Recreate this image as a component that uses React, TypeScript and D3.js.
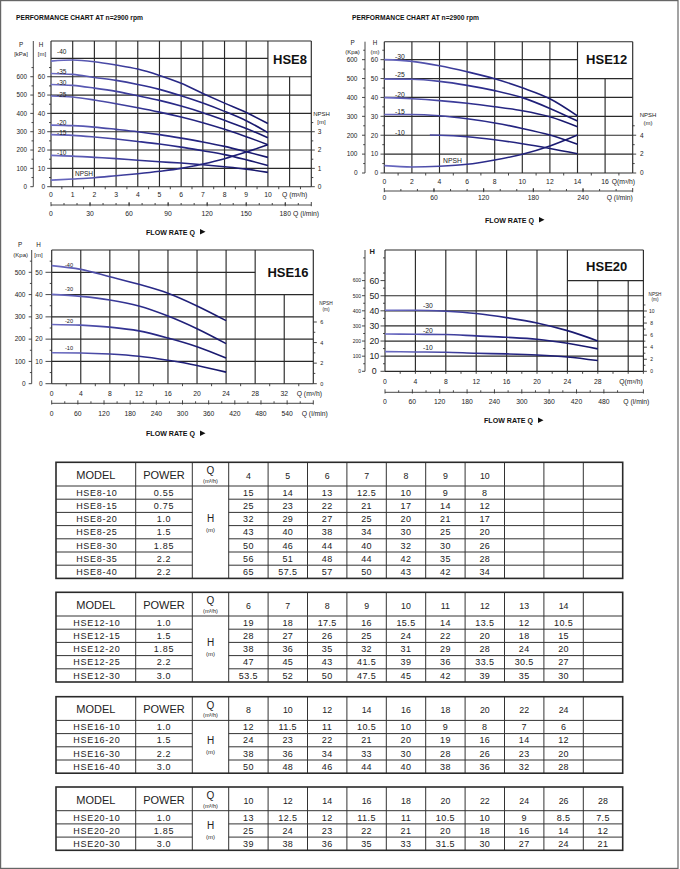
import React from "react";
import * as d3 from "d3";

const FONT = "'Liberation Sans', Arial, Helvetica, sans-serif";
const INK = "#222";
const GRID = "#2a2a2a";

// ===== HSE8 curves (H in m, NPSH in m) =====
const hse8Q = [0, 1, 2, 3, 4, 5, 6, 7, 8, 9, 10];
const hse8H40 = [68.5, 69.1, 68.2, 66.4, 64.2, 60.7, 56.4, 50.9, 45.6, 40.5, 34.5];
const hse8H35 = [61.8, 61.3, 59.6, 58, 55.8, 53.1, 49.6, 45.6, 41.1, 36, 29.5];
const hse8H30 = [55.8, 55.3, 53.8, 52, 49.6, 47.1, 44, 40.4, 36.2, 31.8, 26.7];
const hse8H25 = [49.5, 48.9, 47.3, 45.3, 43.1, 40.7, 38, 34.9, 31.3, 27.3, 22.9];
const hse8H20 = [33.6, 33.3, 32.5, 31.3, 30, 28.4, 26.5, 24.4, 22, 19.1, 16];
const hse8H15 = [28.4, 28, 27.1, 26, 24.7, 23.3, 21.6, 19.6, 17.5, 14.7, 11.6];
const hse8H10 = [17.1, 16.7, 16, 15.3, 14.4, 13.6, 12.9, 12, 10.9, 9.6, 7.8];
const hse8Npsh = [0.36, 0.42, 0.49, 0.6, 0.71, 0.84, 1.0, 1.24, 1.53, 1.89, 2.29];
const hse8Labels = ["-40", "-35", "-30", "-25", "-20", "-15", "-10"];

// ===== HSE12 curves =====
const hse12Q = [0, 2, 4, 6, 8, 10, 12, 14];
const hse12QShort = [3.3, 4, 6, 8, 10, 12, 14];
const hse12H30 = [60, 59.1, 56.8, 53.6, 49.9, 45.1, 39.3, 30.2];
const hse12H25 = [49.7, 49.6, 48.5, 46.4, 43.6, 39.9, 34.2, 27.5];
const hse12H20 = [39.9, 39.3, 38.3, 36.9, 35.1, 33, 29.8, 24.5];
const hse12H15 = [31, 31, 30.3, 28.7, 26.5, 23.6, 20.1, 15.2];
const hse12H10 = [20.1, 20, 19.2, 17.6, 15.5, 13, 10.2];
const hse12Npsh = [0.78, 0.63, 0.71, 0.92, 1.38, 1.98, 2.86, 4.02];
const hse12Labels = ["-30", "-25", "-20", "-15", "-10"];

// ===== HSE16 curves =====
const hse16Q = [0, 4, 8, 12, 16, 20, 24];
const hse16H40 = [53, 51.3, 48, 44.6, 40.6, 34.9, 28.3];
const hse16H30 = [40.1, 39.2, 37.6, 34.9, 30.4, 24.7, 18];
const hse16H20 = [26.6, 26.3, 25.4, 23.7, 20.5, 16.6, 11.5];
const hse16H10 = [13.9, 13.8, 13.3, 12.3, 10.5, 8.2, 5.2];
const hse16Labels = ["-40", "-30", "-20", "-10"];

// ===== HSE20 curves =====
const hse20Q = [0, 4, 8, 12, 16, 20, 24, 28];
const hse20H30 = [40.4, 40.4, 39.7, 38.2, 35.5, 32, 26.9, 20.1];
const hse20H20 = [24.7, 24.5, 24.3, 23.4, 22.5, 21.2, 18.5, 14.8];
const hse20H10 = [13, 12.8, 12.6, 11.9, 11.5, 10.8, 9.5, 7.1];
const hse20Labels = ["-30", "-20", "-10"];

// ===== tables =====
const t8Q = [4, 5, 6, 7, 8, 9, 10];
const t8Models = ["HSE8-10", "HSE8-15", "HSE8-20", "HSE8-25", "HSE8-30", "HSE8-35", "HSE8-40"];
const t8Power = ["0.55", "0.75", "1.0", "1.5", "1.85", "2.2", "2.2"];
const t8H = [
  [15, 14, 13, 12.5, 10, 9, 8],
  [25, 23, 22, 21, 17, 14, 12],
  [32, 29, 27, 25, 20, 21, 17],
  [43, 40, 38, 34, 30, 25, 20],
  [50, 46, 44, 40, 32, 30, 26],
  [56, 51, 48, 44, 42, 35, 28],
  [65, 57.5, 57, 50, 43, 42, 34],
];
const t12Q = [6, 7, 8, 9, 10, 11, 12, 13, 14];
const t12Models = ["HSE12-10", "HSE12-15", "HSE12-20", "HSE12-25", "HSE12-30"];
const t12Power = ["1.0", "1.5", "1.85", "2.2", "3.0"];
const t12H = [
  [19, 18, 17.5, 16, 15.5, 14, 13.5, 12, 10.5],
  [28, 27, 26, 25, 24, 22, 20, 18, 15],
  [38, 36, 35, 32, 31, 29, 28, 24, 20],
  [47, 45, 43, 41.5, 39, 36, 33.5, 30.5, 27],
  [53.5, 52, 50, 47.5, 45, 42, 39, 35, 30],
];
const t16Q = [8, 10, 12, 14, 16, 18, 20, 22, 24];
const t16Models = ["HSE16-10", "HSE16-20", "HSE16-30", "HSE16-40"];
const t16Power = ["1.0", "1.5", "2.2", "3.0"];
const t16H = [
  [12, 11.5, 11, 10.5, 10, 9, 8, 7, 6],
  [24, 23, 22, 21, 20, 19, 16, 14, 12],
  [38, 36, 34, 33, 30, 28, 26, 23, 20],
  [50, 48, 46, 44, 40, 38, 36, 32, 28],
];
const t20Q = [10, 12, 14, 16, 18, 20, 22, 24, 26, 28];
const t20Models = ["HSE20-10", "HSE20-20", "HSE20-30"];
const t20Power = ["1.0", "1.85", "3.0"];
const t20H = [
  [13, 12.5, 12, 11.5, 11, 10.5, 10, 9, 8.5, 7.5],
  [25, 24, 23, 22, 21, 20, 18, 16, 14, 12],
  [39, 38, 36, 35, 33, 31.5, 30, 27, 24, 21],
];

const TITLE = "PERFORMANCE CHART AT n=2900 rpm";
const lm = (L: number) => L * 0.06; // l/min -> m3/h
const rng = (a: number, b: number, s: number) => d3.range(a, b + s / 2, s);

type Txt = [string, number, number, number, string?, string?];

function Panel({ c }: { c: any }) {
  const { xs, ys, ns, ps } = c;
  const xL = xs(0), xR = xs(c.qMax), yB = ys(0);
  const gid = "grad" + c.name;
  const line = d3.line<[number, number]>().x((d) => xs(d[0])).y((d) => ys(d[1])).curve(d3.curveMonotoneX);
  const nline = d3.line<[number, number]>().x((d) => xs(d[0])).y((d) => ns(d[1])).curve(d3.curveMonotoneX);
  const fmt = (v: number) => String(v);
  return (
    <g fontFamily={FONT}>
      <defs>
        <linearGradient id={gid} gradientUnits="userSpaceOnUse" x1={xL} x2={xs(c.qCurveMax)} y1={0} y2={0}>
          <stop offset="0" stopColor="#6d6dc4" />
          <stop offset="0.45" stopColor="#2e2e8e" />
          <stop offset="1" stopColor="#16166a" />
        </linearGradient>
      </defs>
      <g stroke={GRID} strokeWidth={1.15} fill="none">
        <line x1={xL} x2={xR} y1={c.yTop} y2={c.yTop} />
        {c.hFull.map((h: number) => <line key={"hf" + h} x1={xL} x2={xR} y1={ys(h)} y2={ys(h)} />)}
        {c.hPart.map(([h, q0, q1]: number[]) => <line key={"hp" + h} x1={xs(q0)} x2={xs(q1)} y1={ys(h)} y2={ys(h)} />)}
        {c.vFull.map((q: number) => <line key={"vf" + q} x1={xs(q)} x2={xs(q)} y1={c.yTop} y2={yB} />)}
        {c.vPart.map(([q, h]: number[]) => <line key={"vp" + q} x1={xs(q)} x2={xs(q)} y1={ys(h)} y2={yB} />)}
      </g>
      <g stroke="#333" strokeWidth={0.9}>
        <line x1={c.pAxisX} x2={c.pAxisX} y1={c.yTop} y2={yB} />
        {c.pTicks.map((v: number) => <line key={"pt" + v} x1={c.pAxisX - 3} x2={c.pAxisX} y1={ps(v)} y2={ps(v)} />)}
        {c.pMinor.map((v: number) => <line key={"pm" + v} x1={c.pAxisX - 1.8} x2={c.pAxisX} y1={ps(v)} y2={ps(v)} />)}
        {c.hTicks.map((v: number) => <line key={"ht" + v} x1={c.hTickX} x2={xL} y1={ys(v)} y2={ys(v)} />)}
        {c.hMinor.map((v: number) => <line key={"hm" + v} x1={xL - 2} x2={xL} y1={ys(v)} y2={ys(v)} />)}
        {c.nTicks.map((v: number) => <line key={"nt" + v} x1={xR} x2={xR + 3.5} y1={ns(v)} y2={ns(v)} />)}
        {c.nMinor.map((v: number) => <line key={"nm" + v} x1={xR} x2={xR + 2} y1={ns(v)} y2={ns(v)} />)}
        {c.qMinor.map((v: number) => <line key={"qm" + v} x1={xs(v)} x2={xs(v)} y1={yB} y2={yB + 2.5} />)}
        <line x1={xL} x2={xR} y1={c.lAxisY} y2={c.lAxisY} />
        {c.lTicks.map((v: number) => <line key={"lt" + v} x1={xs(lm(v))} x2={xs(lm(v))} y1={c.lAxisY - 3} y2={c.lAxisY + 1.2} />)}
        {c.lMinor.map((v: number) => <line key={"lm" + v} x1={xs(lm(v))} x2={xs(lm(v))} y1={c.lAxisY - 2} y2={c.lAxisY} />)}
        <line x1={xR} x2={xR} y1={c.lAxisY - 3} y2={c.lAxisY + 1.2} />
      </g>
      <g fill={INK}>
        {c.pTicks.map((v: number) => (
          <text key={"pl" + v} x={c.pLabelX} y={ps(v) + c.pFont * 0.36} fontSize={c.pFont} textAnchor="end">{fmt(v)}</text>
        ))}
        {c.hTicks.map((v: number) => (
          <text key={"hl" + v} x={c.hLabelX} y={ys(v) + c.hFont * 0.36} fontSize={c.hFont} textAnchor={c.hAnchor}>{fmt(v)}</text>
        ))}
        {c.nTicks.map((v: number) => (
          <text key={"nl" + v} x={c.nLabelX} y={ns(v) + c.nFont * 0.36} fontSize={c.nFont} textAnchor="middle">{fmt(v)}</text>
        ))}
        {c.qTicks.map((v: number) => (
          <text key={"ql" + v} x={xs(v)} y={c.qLabelY} fontSize={6.8} textAnchor="middle">{fmt(v)}</text>
        ))}
        {c.lTicks.filter((v: number) => c.lLabels.includes(v)).map((v: number) => (
          <text key={"ll" + v} x={xs(lm(v))} y={c.lLabelY} fontSize={6.8} textAnchor="middle">{fmt(v)}</text>
        ))}
        {c.texts.map(([t, x, y, s, a, w]: Txt, i: number) => (
          <text key={"tx" + i} x={x} y={y} fontSize={s} textAnchor={a || "middle"} fontWeight={w || "normal"}>{t}</text>
        ))}
        <text x={c.nameX} y={c.nameY} fontSize={13} fontWeight="bold" textAnchor="middle" fill="#111">{c.name}</text>
        {c.title && (
          <text x={c.title[0]} y={c.title[1]} fontSize={7.2} fontWeight="bold" textLength={127} lengthAdjust="spacingAndGlyphs" fill="#111">{TITLE}</text>
        )}
        <text x={c.flow[0]} y={c.flow[1]} fontSize={7} fontWeight="bold" textLength={49} lengthAdjust="spacingAndGlyphs" fill="#111">FLOW RATE Q</text>
        <path d={`M${c.flow[0] + 54},${c.flow[1] - 5.6} L${c.flow[0] + 59.5},${c.flow[1] - 2.8} L${c.flow[0] + 54},${c.flow[1]} Z`} fill="#111" />
      </g>
      <g fill="none" stroke={`url(#${gid})`} strokeWidth={1.6} strokeLinejoin="round">
        {c.curves.map((cv: any, i: number) => (
          <path key={"cv" + i} d={line(cv.q.map((q: number, j: number) => [q, cv.h[j]]) as [number, number][]) || ""} />
        ))}
        {c.npsh && <path d={nline(c.npsh.q.map((q: number, j: number) => [q, c.npsh.v[j]]) as [number, number][]) || ""} />}
      </g>
      <g fill={INK} fontSize={c.curveFont}>
        {c.curves.map((cv: any, i: number) => (
          <text key={"cl" + i} x={cv.lx} y={cv.ly}>{cv.label}</text>
        ))}
        {c.npsh && <text x={c.npsh.lx} y={c.npsh.ly}>NPSH</text>}
      </g>
    </g>
  );
}

function Table({ top, qs, models, powers, hs, hY }: any) {
  const x0 = 56, xP = 135.7, xQ = 192.3, xD = 228.7, x1 = 622.7;
  const headH = 23.7, rowH = 13.2;
  const band = d3.scaleBand<number>().domain(d3.range(10)).range([xD, x1]);
  const yHead = top + headH;
  const bottom = yHead + rowH * models.length;
  const rows = d3.range(models.length);
  const ry = (i: number) => yHead + rowH * (i + 0.5) + 3.2;
  return (
    <g fontFamily={FONT} fill={INK}>
      <g stroke="#333" strokeWidth={1}>
        <line x1={x0} x2={x1} y1={yHead} y2={yHead} />
        {rows.slice(1).map((i) => (
          <g key={"r" + i}>
            <line x1={x0} x2={xQ} y1={yHead + rowH * i} y2={yHead + rowH * i} />
            <line x1={xD} x2={x1} y1={yHead + rowH * i} y2={yHead + rowH * i} />
          </g>
        ))}
        {[xP, xQ, xD, ...d3.range(1, 10).map((k) => band(k) as number)].map((x, i) => (
          <line key={"c" + i} x1={x} x2={x} y1={top} y2={bottom} />
        ))}
      </g>
      <rect x={x0} y={top} width={x1 - x0} height={bottom - top} fill="none" stroke="#2a2a2a" strokeWidth={1.6} />
      <text x={(x0 + xP) / 2} y={top + 16.5} fontSize={11} textAnchor="middle">MODEL</text>
      <text x={(xP + xQ) / 2} y={top + 16.5} fontSize={11} textAnchor="middle">POWER</text>
      <text x={(xQ + xD) / 2} y={top + 12} fontSize={10} textAnchor="middle">Q</text>
      <text x={(xQ + xD) / 2} y={top + 20.5} fontSize={5.6} textAnchor="middle">(m³/h)</text>
      {qs.map((q: number, k: number) => (
        <text key={"q" + k} x={(band(k) as number) + band.bandwidth() / 2} y={top + 16.5} fontSize={8.8} textAnchor="middle">{q}</text>
      ))}
      <text x={(xQ + xD) / 2} y={hY} fontSize={10} textAnchor="middle">H</text>
      <text x={(xQ + xD) / 2} y={hY + 10} fontSize={6} textAnchor="middle">(m)</text>
      {rows.map((i) => (
        <g key={"d" + i} fontSize={9}>
          <text x={(x0 + xP) / 2 + 1} y={ry(i)} textAnchor="middle" letterSpacing={0.7}>{models[i]}</text>
          <text x={(xP + xQ) / 2} y={ry(i)} textAnchor="middle" letterSpacing={0.7}>{powers[i]}</text>
          {hs[i].map((v: number, k: number) => (
            <text key={k} x={(band(k) as number) + band.bandwidth() / 2} y={ry(i)} textAnchor="middle" letterSpacing={0.4}>{v}</text>
          ))}
        </g>
      ))}
    </g>
  );
}

export default function App() {
  // ---------- HSE8 ----------
  const p8 = {
    name: "HSE8", nameX: 290, nameY: 64,
    xs: d3.scaleLinear().domain([0, 12]).range([51, 311.3]),
    ys: d3.scaleLinear().domain([0, 70]).range([186.7, 58.4]),
    ns: d3.scaleLinear().domain([0, 7]).range([186.7, 58.4]),
    ps: d3.scaleLinear().domain([0, 700]).range([186.7, 58.4]),
    yTop: 41, qMax: 12, qCurveMax: 10,
    hFull: [0, 10, 20, 30, 40, 50, 60], hPart: [[70, 0, 10]],
    vFull: [0, 1, 2, 3, 4, 5, 6, 7, 8, 9, 10, 12], vPart: [[11, 60]],
    pAxisX: 33.3, pLabelX: 27, pTicks: rng(0, 600, 100), pMinor: rng(50, 650, 100), pFont: 6.3,
    hLabelX: 45, hAnchor: "end", hTicks: rng(0, 60, 10), hTickX: 47.2, hMinor: rng(5, 65, 10), hFont: 6.5,
    nTicks: [0, 1, 2, 3], nMinor: [0.5, 1.5, 2.5, 3.5], nLabelX: 319.5, nFont: 6.5,
    qTicks: rng(0, 10, 1), qLabelY: 196.5, qMinor: rng(0.5, 11.5, 1),
    lAxisY: 205, lTicks: rng(0, 180, 30), lLabels: rng(0, 180, 30), lMinor: rng(10, 190, 10), lLabelY: 215.5,
    texts: [
      ["P", 21, 46.5, 6.3], ["[kPa]", 21, 55.5, 6], ["H", 41, 46.5, 6.3], ["[m]", 42, 55.5, 6],
      ["NPSH", 321.5, 115.5, 6], ["[m]", 321.5, 124, 6],
      ["Q (m³/h)", 282, 196.5, 6.8, "start"], ["Q (l/min)", 293, 215.5, 6.8, "start"],
    ] as Txt[],
    title: [16, 19.5], flow: [146, 234.5], curveFont: 6.5,
    curves: [
      { q: hse8Q, h: hse8H40, label: hse8Labels[0], lx: 57, ly: 53.5 },
      { q: hse8Q, h: hse8H35, label: hse8Labels[1], lx: 57, ly: 73.5 },
      { q: hse8Q, h: hse8H30, label: hse8Labels[2], lx: 57, ly: 84.5 },
      { q: hse8Q, h: hse8H25, label: hse8Labels[3], lx: 57, ly: 96.5 },
      { q: hse8Q, h: hse8H20, label: hse8Labels[4], lx: 57, ly: 124.5 },
      { q: hse8Q, h: hse8H15, label: hse8Labels[5], lx: 57, ly: 134.5 },
      { q: hse8Q, h: hse8H10, label: hse8Labels[6], lx: 57, ly: 154.5 },
    ],
    npsh: { q: hse8Q, v: hse8Npsh, lx: 75, ly: 176 },
  };
  // ---------- HSE12 ----------
  const p12 = {
    name: "HSE12", nameX: 606.7, nameY: 64,
    xs: d3.scaleLinear().domain([0, 18]).range([384.3, 632.7]),
    ys: d3.scaleLinear().domain([0, 60]).range([173, 59.67]),
    ns: d3.scaleLinear().domain([0, 12]).range([173, 59.67]),
    ps: d3.scaleLinear().domain([0, 600]).range([173, 59.67]),
    yTop: 41.7, qMax: 18, qCurveMax: 14,
    hFull: [0, 10, 20, 30, 40, 50], hPart: [[60, 0, 14]],
    vFull: [0, 2, 4, 6, 8, 10, 12, 14, 18], vPart: [[16, 50]],
    pAxisX: 365, pLabelX: 357.5, pTicks: rng(0, 600, 100), pMinor: rng(50, 650, 50).filter((v: number) => v % 100 !== 0), pFont: 6.5,
    hLabelX: 378, hAnchor: "end", hTicks: rng(0, 60, 10), hTickX: 380.5, hMinor: rng(5, 65, 10), hFont: 6.5,
    nTicks: [0, 2, 4], nMinor: [1, 3, 5], nLabelX: 641.7, nFont: 6.5,
    qTicks: rng(0, 16, 2), qLabelY: 184, qMinor: rng(1, 17, 2),
    lAxisY: 191, lTicks: rng(0, 240, 60), lLabels: rng(0, 240, 60), lMinor: rng(20, 280, 20), lLabelY: 200,
    texts: [
      ["P", 352.5, 45, 6.3], ["(Kpa)", 352.5, 53.5, 6], ["H", 375, 45, 6.3], ["(m)", 375, 53.5, 6],
      ["NPSH", 648, 117.3, 6], ["(m)", 648, 124.5, 6],
      ["Q(m³/h)", 611.7, 184, 6.8, "start"], ["Q  (l/min)", 606.7, 200, 6.8, "start"],
    ] as Txt[],
    title: [352, 19.5], flow: [485, 222.5], curveFont: 6.8,
    curves: [
      { q: hse12Q, h: hse12H30, label: hse12Labels[0], lx: 395, ly: 59 },
      { q: hse12Q, h: hse12H25, label: hse12Labels[1], lx: 395, ly: 76.5 },
      { q: hse12Q, h: hse12H20, label: hse12Labels[2], lx: 395, ly: 96.5 },
      { q: hse12Q, h: hse12H15, label: hse12Labels[3], lx: 395, ly: 113.5 },
      { q: hse12QShort, h: hse12H10, label: hse12Labels[4], lx: 395, ly: 134.5 },
    ],
    npsh: { q: hse12Q, v: hse12Npsh, lx: 443, ly: 162.5 },
  };
  // ---------- HSE16 ----------
  const p16 = {
    name: "HSE16", nameX: 288, nameY: 276.7,
    xs: d3.scaleLinear().domain([0, 36]).range([51.7, 313.3]),
    ys: d3.scaleLinear().domain([0, 50]).range([383.7, 272.3]),
    ns: d3.scaleLinear().domain([0, 6]).range([383.7, 322]),
    ps: d3.scaleLinear().domain([0, 500]).range([383.7, 272.3]),
    yTop: 250, qMax: 36, qCurveMax: 24,
    hFull: [0, 10, 20, 30, 40], hPart: [[50, 0, 28]],
    vFull: [0, 4, 8, 12, 16, 20, 24, 28, 36], vPart: [[32, 40]],
    pAxisX: 31.7, pLabelX: 25.5, pTicks: rng(0, 500, 100), pMinor: rng(50, 550, 100), pFont: 6.5,
    hLabelX: 42.5, hAnchor: "end", hTicks: rng(0, 50, 10), hTickX: 45.5, hMinor: rng(5, 55, 10), hFont: 6.5,
    nTicks: [0, 2, 4, 6], nMinor: [1, 3, 5], nLabelX: 321.7, nFont: 5.5,
    qTicks: rng(0, 32, 4), qLabelY: 395.5, qMinor: rng(2, 34, 4),
    lAxisY: 403.3, lTicks: rng(0, 540, 60), lLabels: rng(0, 540, 60), lMinor: rng(30, 570, 60), lLabelY: 415.5,
    texts: [
      ["P", 20, 247, 6.3], ["(Kpa)", 20.7, 256.5, 6], ["H", 38.5, 247, 6.3], ["[m]", 38.5, 256.5, 6],
      ["NPSH", 326, 305, 4.8], ["(m)", 326, 311, 4.8],
      ["Q (m³/h)", 296.7, 395.5, 6.8, "start"], ["Q (l/min)", 301.7, 415.5, 6.8, "start"],
    ] as Txt[],
    title: null, flow: [146, 436], curveFont: 5.6,
    curves: [
      { q: hse16Q, h: hse16H40, label: hse16Labels[0], lx: 65, ly: 266.5 },
      { q: hse16Q, h: hse16H30, label: hse16Labels[1], lx: 65, ly: 291 },
      { q: hse16Q, h: hse16H20, label: hse16Labels[2], lx: 65, ly: 323 },
      { q: hse16Q, h: hse16H10, label: hse16Labels[3], lx: 65, ly: 349.5 },
    ],
    npsh: null,
  };
  // ---------- HSE20 ----------
  const p20 = {
    name: "HSE20", nameX: 606.7, nameY: 271,
    xs: d3.scaleLinear().domain([0, 34]).range([385, 643.4]),
    ys: d3.scaleLinear().domain([0, 50]).range([371.3, 295.7]),
    ns: d3.scaleLinear().domain([0, 10]).range([371.3, 311]),
    ps: d3.scaleLinear().domain([0, 500]).range([371.3, 295.7]),
    yTop: 250, qMax: 34, qCurveMax: 28,
    hFull: [0, 10, 20, 30, 40, 50], hPart: [[60, 24, 34]],
    vFull: [0, 4, 8, 12, 16, 20, 24, 34], vPart: [[28, 60], [32, 60]],
    pAxisX: 365, pLabelX: 361, pTicks: rng(0, 600, 100), pMinor: rng(50, 750, 100), pFont: 5,
    hLabelX: 374.3, hAnchor: "middle", hTicks: rng(0, 60, 10), hTickX: 380.5, hMinor: rng(5, 75, 10), hFont: 8.8,
    nTicks: rng(0, 10, 2), nMinor: rng(1, 11, 2), nLabelX: 651.7, nFont: 5,
    qTicks: rng(0, 28, 4), qLabelY: 384, qMinor: rng(2, 34, 2),
    lAxisY: 392.3, lTicks: rng(0, 480, 60), lLabels: rng(0, 480, 60), lMinor: rng(30, 540, 60), lLabelY: 404,
    texts: [
      ["H", 372.3, 253.5, 7.5, "middle", "bold"],
      ["NPSH", 655, 296, 4.6], ["(m)", 655, 301, 4.6],
      ["Q(m³/h)", 619.3, 384, 6.8, "start"], ["Q (l/min)", 623.3, 404, 6.8, "start"],
    ] as Txt[],
    title: null, flow: [484, 423], curveFont: 6.8,
    curves: [
      { q: hse20Q, h: hse20H30, label: hse20Labels[0], lx: 423, ly: 307.5 },
      { q: hse20Q, h: hse20H20, label: hse20Labels[1], lx: 423, ly: 332.5 },
      { q: hse20Q, h: hse20H10, label: hse20Labels[2], lx: 423, ly: 350 },
    ],
    npsh: null,
  };

  return (
    <svg width={680} height={869} viewBox="0 0 680 869" style={{ position: "absolute", left: 0, top: 0, background: "#fff" }}>
      <rect x={0} y={0} width={680} height={869} fill="#fff" />
      <rect x={0.6} y={0.6} width={677.4} height={867.8} fill="none" stroke="#666" strokeWidth={1.2} />
      <Panel c={p8} />
      <Panel c={p12} />
      <Panel c={p16} />
      <Panel c={p20} />
      <Table top={462.3} qs={t8Q} models={t8Models} powers={t8Power} hs={t8H} hY={522.3} />
      <Table top={592.3} qs={t12Q} models={t12Models} powers={t12Power} hs={t12H} hY={645.7} />
      <Table top={696.7} qs={t16Q} models={t16Models} powers={t16Power} hs={t16H} hY={744.3} />
      <Table top={787} qs={t20Q} models={t20Models} powers={t20Power} hs={t20H} hY={829.3} />
    </svg>
  );
}
